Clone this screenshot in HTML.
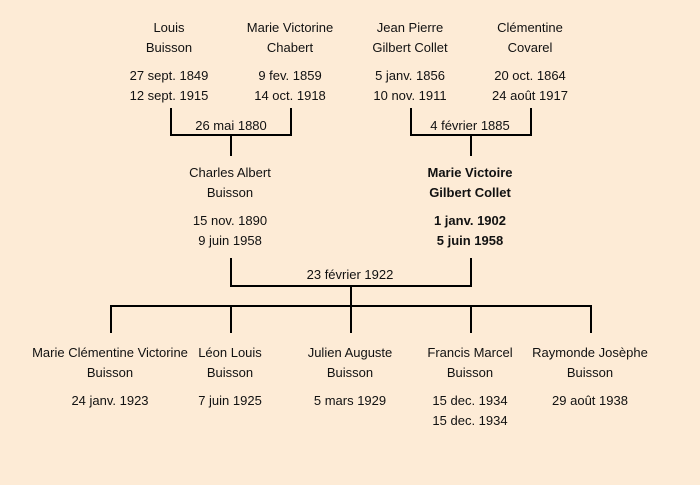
<!DOCTYPE html>
<html><head><meta charset="utf-8"><style>
html,body{margin:0;padding:0;background:#fdebd6;}
svg{display:block}
text{font-family:"Liberation Sans",sans-serif;font-size:13px;fill:#111;text-anchor:middle}
.b{font-weight:bold}
</style></head><body>
<svg width="700" height="485" viewBox="0 0 700 485">
<rect width="700" height="485" fill="#fdebd6"/>
<g stroke="#000" stroke-width="2" fill="none">
<polyline points="171,108 171,135 291,135 291,108"/>
<line x1="231" y1="135" x2="231" y2="156"/>
<polyline points="411,108 411,135 531,135 531,108"/>
<line x1="471" y1="135" x2="471" y2="156"/>
<polyline points="231,258 231,286 471,286 471,258"/>
<line x1="351" y1="286" x2="351" y2="306"/>
<line x1="110" y1="306" x2="592" y2="306"/>
<line x1="111" y1="306" x2="111" y2="333"/>
<line x1="231" y1="306" x2="231" y2="333"/>
<line x1="351" y1="306" x2="351" y2="333"/>
<line x1="471" y1="306" x2="471" y2="333"/>
<line x1="591" y1="306" x2="591" y2="333"/>
</g>
<text x="169" y="32">Louis</text><text x="169" y="52">Buisson</text><text x="169" y="80">27 sept. 1849</text><text x="169" y="100">12 sept. 1915</text>
<text x="290" y="32">Marie Victorine</text><text x="290" y="52">Chabert</text><text x="290" y="80">9 fev. 1859</text><text x="290" y="100">14 oct. 1918</text>
<text x="410" y="32">Jean Pierre</text><text x="410" y="52">Gilbert Collet</text><text x="410" y="80">5 janv. 1856</text><text x="410" y="100">10 nov. 1911</text>
<text x="530" y="32">Clémentine</text><text x="530" y="52">Covarel</text><text x="530" y="80">20 oct. 1864</text><text x="530" y="100">24 août 1917</text>
<text x="231" y="130">26 mai 1880</text>
<text x="470" y="130">4 février 1885</text>
<text x="230" y="177">Charles Albert</text><text x="230" y="197">Buisson</text><text x="230" y="225">15 nov. 1890</text><text x="230" y="245">9 juin 1958</text>
<g class="b"><text class="b" x="470" y="177">Marie Victoire</text><text class="b" x="470" y="197">Gilbert Collet</text><text class="b" x="470" y="225">1 janv. 1902</text><text class="b" x="470" y="245">5 juin 1958</text></g>
<text x="350" y="279">23 février 1922</text>
<text x="110" y="357">Marie Clémentine Victorine</text><text x="110" y="377">Buisson</text><text x="110" y="405">24 janv. 1923</text>
<text x="230" y="357">Léon Louis</text><text x="230" y="377">Buisson</text><text x="230" y="405">7 juin 1925</text>
<text x="350" y="357">Julien Auguste</text><text x="350" y="377">Buisson</text><text x="350" y="405">5 mars 1929</text>
<text x="470" y="357">Francis Marcel</text><text x="470" y="377">Buisson</text><text x="470" y="405">15 dec. 1934</text><text x="470" y="425">15 dec. 1934</text>
<text x="590" y="357">Raymonde Josèphe</text><text x="590" y="377">Buisson</text><text x="590" y="405">29 août 1938</text>
</svg>
</body></html>
